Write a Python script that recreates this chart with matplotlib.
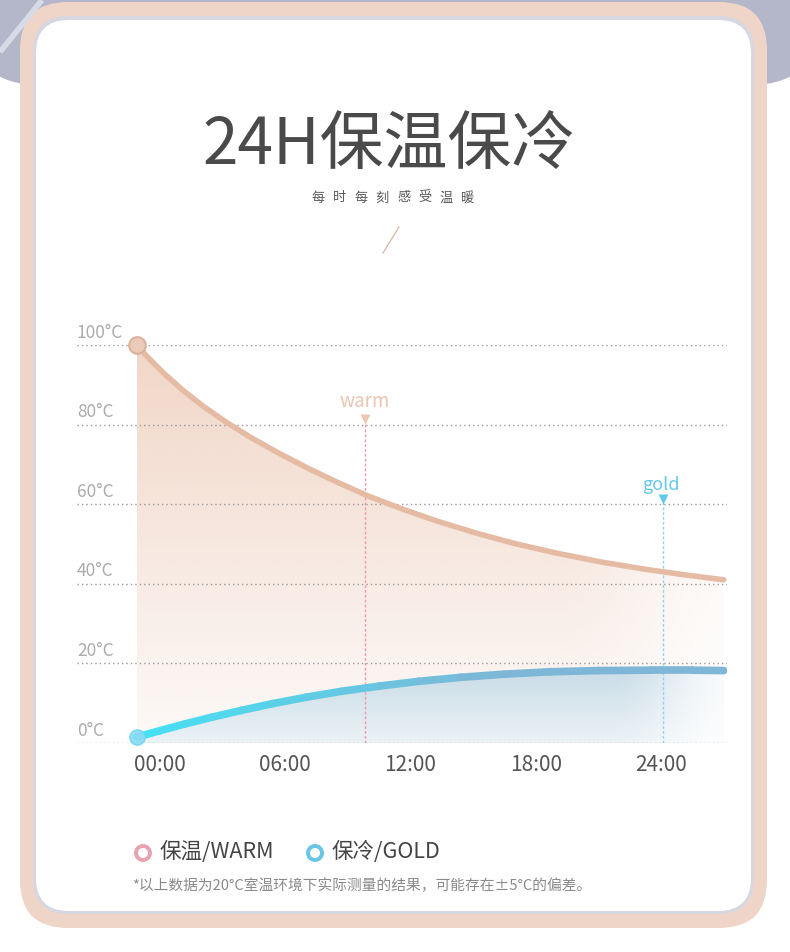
import numpy as np
import matplotlib
matplotlib.use("Agg")
import matplotlib.pyplot as plt
from matplotlib.patches import FancyBboxPatch, Polygon, Circle
from matplotlib.collections import LineCollection
from matplotlib.colors import to_rgb

plt.rcParams['font.family'] = ['Noto Sans CJK SC', 'DejaVu Sans']

# values, hours relative to the 00:00 tick
warm_hours = [-1.1, -0.6, 0.2, 1.1, 2.1, 3.2, 4.4, 5.7, 7.1, 8.5, 10.0,
              11.6, 13.3, 15.1, 17.0, 19.0, 21.1, 23.3, 25.2, 27.0]
warm_temp = [100, 97.0, 92.8, 88.6, 84.5, 80.5, 76.6, 72.8, 69.0, 65.5, 62.0,
             58.8, 55.7, 52.8, 50.1, 47.7, 45.5, 43.6, 42.2, 41.0]
gold_hours = [-1.1, 0.0, 1.2, 2.5, 3.9, 5.4, 7.0, 8.7, 10.5, 12.4, 14.4,
              16.5, 18.7, 21.0, 23.5, 25.5, 27.0]
gold_temp = [1.5, 3.1, 4.8, 6.5, 8.2, 9.9, 11.5, 13.0, 14.3, 15.5, 16.5,
             17.3, 17.9, 18.2, 18.3, 18.3, 18.2]

y_ticks = [0, 20, 40, 60, 80, 100]
y_labels = ['0°C', '20°C', '40°C', '60°C', '80°C', '100°C']
x_ticks = [0, 6, 12, 18, 24]
x_labels = ['00:00', '06:00', '12:00', '18:00', '24:00']

# the two flags on the chart
warm_flag = (9.8, 80)
gold_flag = (24.1, 60)

title = '24H保温保冷'
subtitle = '每时每刻感受温暖'
legend_labels = ['保温/WARM', '保冷/GOLD']
footnote = '*以上数据为20°C室温环境下实际测量的结果，可能存在±5°C的偏差。'


def smoothstep(x):
    x = np.clip(x, 0, 1)
    return x * x * (3 - 2 * x)


W, H = 790, 952
fig = plt.figure(figsize=(W / 100, H / 100), dpi=100)

# ---- background / frame, drawn in pixel coordinates ----
bg = fig.add_axes([0, 0, 1, 1])
bg.set_xlim(0, W)
bg.set_ylim(H, 0)
bg.axis('off')

bg.add_patch(FancyBboxPatch((-30, -80), W + 60, 165,
                            boxstyle='round,pad=0,rounding_size=70',
                            fc='#b4b6c9', ec='none'))
bg.plot([0, 42], [52, 0], color='#d9dae7', lw=4, solid_capstyle='butt')
bg.add_patch(FancyBboxPatch((20, 2), 747, 926,
                            boxstyle='round,pad=0,rounding_size=48',
                            fc='#efd5c8', ec='none'))
bg.add_patch(FancyBboxPatch((33, 16), 721, 898,
                            boxstyle='round,pad=0,rounding_size=36',
                            fc='#d7d7e2', ec='none'))
bg.add_patch(FancyBboxPatch((36, 20), 715, 891,
                            boxstyle='round,pad=0,rounding_size=33',
                            fc='white', ec='none'))

bg.text(389, 146, title, fontsize=46, color='#4a4a4a', ha='center', va='center')
for i, ch in enumerate(subtitle):
    bg.text(318 + i * 21.4, 198, ch, fontsize=9.5, color='#5a5a5a',
            ha='center', va='center')
bg.plot([383, 399], [253, 227], color='#d8b6a2', lw=0.9)

# legend
bg.add_patch(Circle((143, 853), 7, fill=False, ec='#e9a2b2', lw=2.8))
bg.text(160, 852, legend_labels[0], fontsize=15.5, color='#444444', va='center')
bg.add_patch(Circle((315, 853), 7, fill=False, ec='#66c6e4', lw=2.8))
bg.text(332, 852, legend_labels[1], fontsize=15.5, color='#444444', va='center')
bg.text(132, 886, footnote, fontsize=10.6, color='#8a8a8a', va='center')

# ---- chart ----
x_min, x_max = (77 - 160) / 20.88, (727 - 160) / 20.88
ax = fig.add_axes([77 / W, (H - 743) / H, 650 / W, 398 / H])
ax.set_xlim(x_min, x_max)
ax.set_ylim(0, 100)
for s in ax.spines.values():
    s.set_visible(False)
ax.patch.set_alpha(0)

hh = np.linspace(x_min, x_max, 500)
tt = np.linspace(0, 100, 400)
HH, TT = np.meshgrid(hh, tt)

# warm fill: peach, fading downwards and towards the right
warm_rgb = np.array(to_rgb('#eac4ae'))
fade_r = 1 - 0.75 * smoothstep((HH - 19.0) / 8.5)
a = (0.09 + 0.6 * TT / 100) * fade_r
img = np.ones(HH.shape + (4,))
img[..., :3] = warm_rgb
img[..., 3] = a
im = ax.imshow(img, extent=[x_min, x_max, 0, 100], origin='lower',
               aspect='auto', zorder=1, interpolation='bilinear')
poly = Polygon(list(zip(warm_hours, warm_temp)) + [(warm_hours[-1], 0), (warm_hours[0], 0)],
               closed=True, fc='none', ec='none')
ax.add_patch(poly)
im.set_clip_path(poly)

# gold fill: blue-grey, opaque over white so the peach does not show through
gold_rgb = np.array(to_rgb('#93b9cf'))
fade_g = 1 - 0.85 * smoothstep((HH - 21.5) / 5.8)
ag = (0.18 + 0.32 * np.clip(TT / 18.3, 0, 1)) * fade_g
img2 = np.ones(HH.shape + (4,))
img2[..., :3] = 1 - ag[..., None] * (1 - gold_rgb)
img2[..., 3] = 1
im2 = ax.imshow(img2, extent=[x_min, x_max, 0, 100], origin='lower',
                aspect='auto', zorder=2, interpolation='bilinear')
poly2 = Polygon(list(zip(gold_hours, gold_temp)) + [(gold_hours[-1], 0), (gold_hours[0], 0)],
                closed=True, fc='none', ec='none')
ax.add_patch(poly2)
im2.set_clip_path(poly2)

# grid lines and y labels
for t, lab in zip(y_ticks, y_labels):
    ax.axhline(t, color='#9a9a9a', lw=1.0, ls=(0, (1, 2.2)), zorder=3)
    ax.text(0, t + 3.1, lab, transform=ax.get_yaxis_transform(), fontsize=12.5,
            color='#ababab', ha='left', va='center')

# flags
ax.plot([warm_flag[0]] * 2, [0, warm_flag[1] + 1], color='#ef9aae', lw=1.0,
        ls=(0, (2, 1.5)), zorder=4)
ax.plot(warm_flag[0], warm_flag[1] + 1.3, marker='v', ms=7, color='#efc6b4',
        mec='none', zorder=5)
ax.text(warm_flag[0], warm_flag[1] + 5.8, 'warm', fontsize=13.5, color='#ebc5b1',
        ha='center', va='center')
ax.plot([gold_flag[0]] * 2, [0, gold_flag[1] + 1], color='#92d3ed', lw=1.0,
        ls=(0, (2, 1.5)), zorder=4)
ax.plot(gold_flag[0], gold_flag[1] + 1.3, marker='v', ms=7, color='#5fcbe8',
        mec='none', zorder=5)
ax.text(gold_flag[0] - 0.1, gold_flag[1] + 4.8, 'gold', fontsize=13, color='#66c8e6',
        ha='center', va='center')

# warm curve
ax.plot(warm_hours, warm_temp, color='#e6bba3', lw=4, solid_capstyle='round',
        solid_joinstyle='round', zorder=6)
ax.plot(warm_hours[0], warm_temp[0], 'o', ms=12, mfc='#ebcab8', mec='#dcb29c',
        mew=1.5, zorder=7, clip_on=False)

# gold curve with a cyan -> steel blue gradient
pts = np.column_stack([gold_hours, gold_temp])
segs = np.stack([pts[:-1], pts[1:]], axis=1)
c0, c1 = np.array(to_rgb('#45e0f3')), np.array(to_rgb('#7db6d6'))
f = np.clip((np.array(gold_hours[:-1]) + 1.1) / 16.0, 0, 1)[:, None]
cols = c0 * (1 - f) + c1 * f
lc = LineCollection(segs, colors=cols, linewidths=5.5, capstyle='round',
                    joinstyle='round', zorder=6)
ax.add_collection(lc)
ax.plot(gold_hours[0], gold_temp[0], 'o', ms=11, mfc='#8adbf3', mec='#70d4f0',
        mew=1, alpha=0.9, zorder=7, clip_on=False)

ax.set_yticks([])
ax.set_xticks(x_ticks)
ax.set_xticklabels(x_labels, fontsize=15, color='#555555')
ax.tick_params(axis='x', length=0, pad=8)

fig.savefig('out.png', dpi=100)
